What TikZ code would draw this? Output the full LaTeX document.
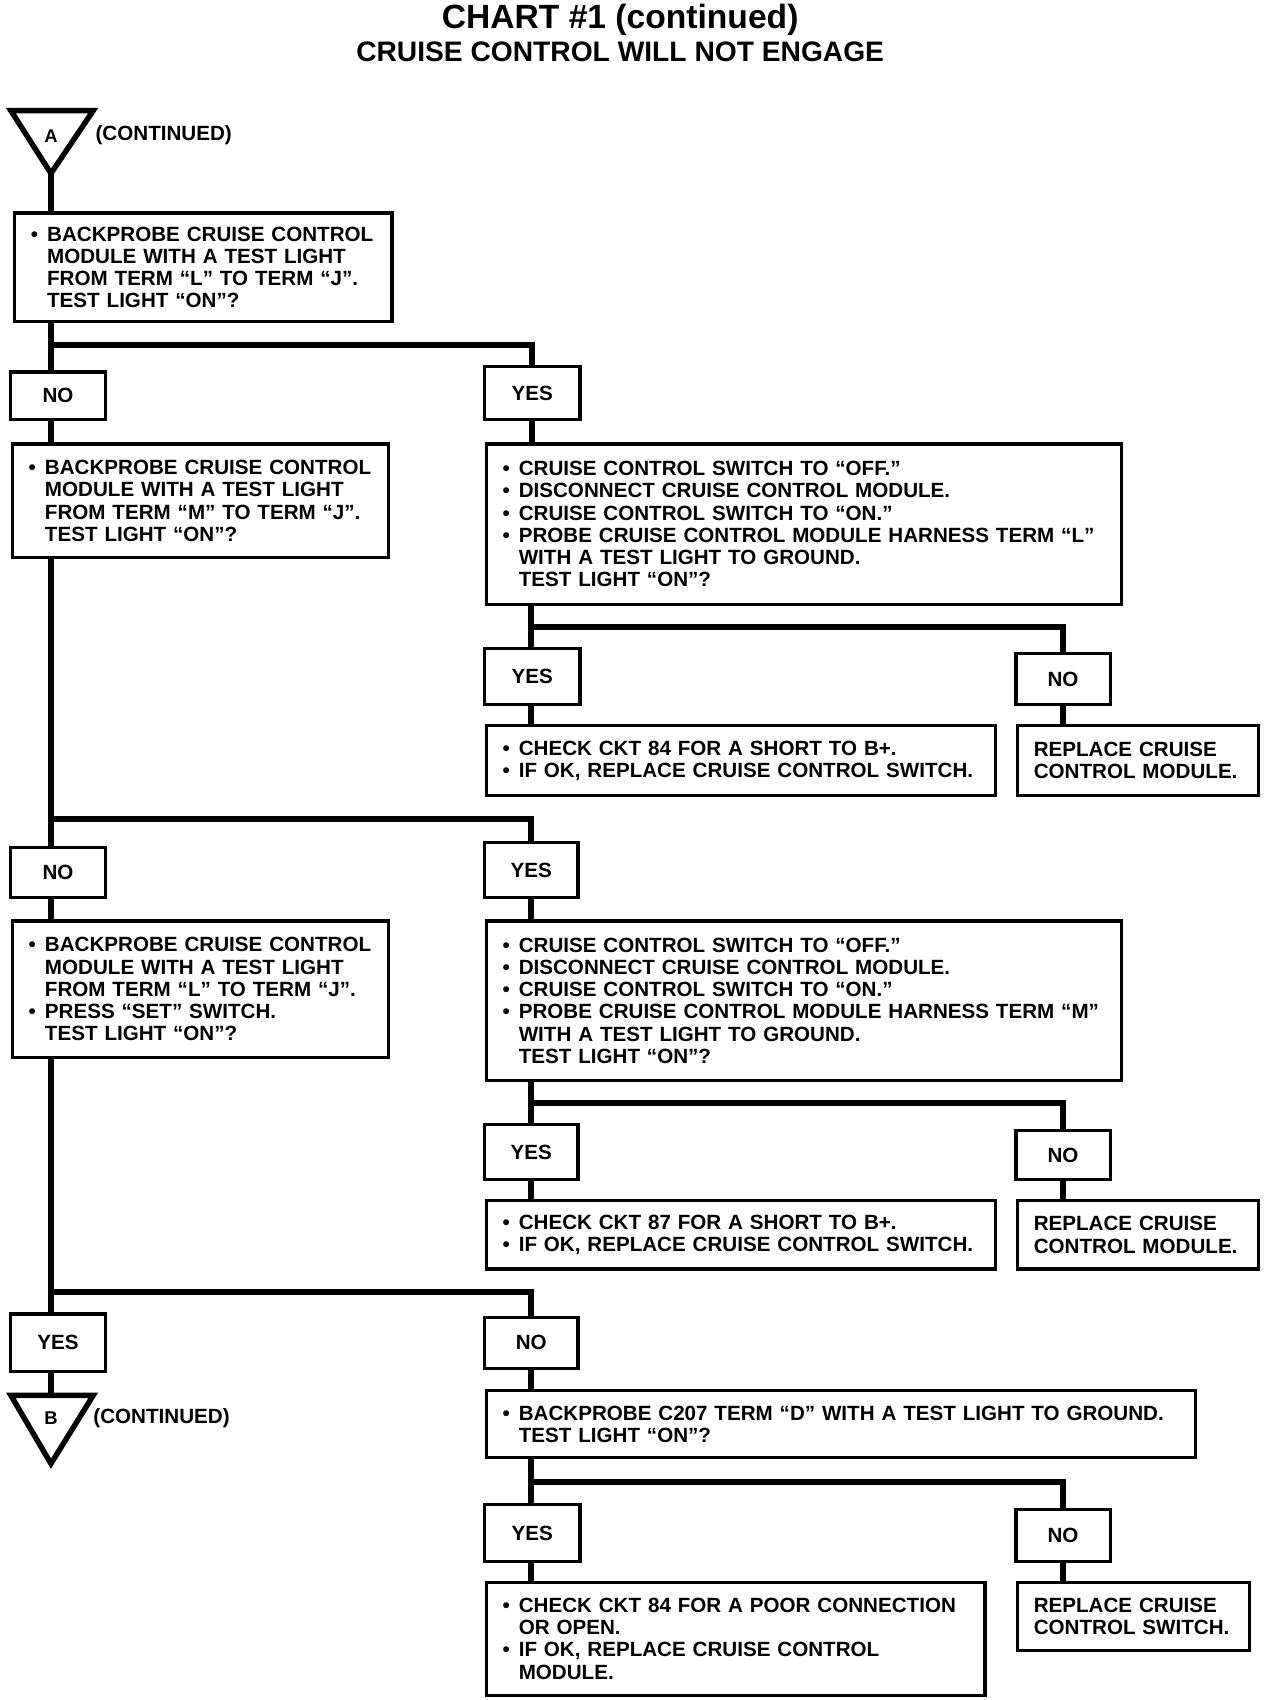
\documentclass[tikz,border=0pt]{standalone}
\usepackage{fontspec}
\setmainfont{Liberation Sans}
\newcommand{\bul}{\makebox[15pt][l]{\textbullet}}
\newcommand{\indt}{\hspace*{15pt}}
\begin{document}
\begin{tikzpicture}[x=1pt,y=-1pt,
  txt/.style={font=\bfseries\fontsize{19}{20.5}\selectfont},
  box/.style={txt, draw, line width=3pt, anchor=north west, inner xsep=15pt, inner ysep=0pt, align=left},
  lab/.style={txt, draw, line width=3pt, inner sep=0pt},
  conn/.style={line width=5.5pt},
  tri/.style={line width=5pt, line join=miter}]
\useasboundingbox (0,0) rectangle (1185,1568);
\fill[white] (0,0) rectangle (1185,1568);

% title
\node[font=\bfseries\fontsize{31}{34}\selectfont] (title) at (572,18) {CHART \#1 (continued)};
\node[font=\bfseries\fontsize{26}{28}\selectfont] (subtitle) at (572,48) {CRUISE CONTROL WILL NOT ENGAGE};

% triangle A
\coordinate (Aap) at (47,160);
\draw[tri] (10,102) -- (86,102) -- (Aap) -- cycle;
\node[txt, font=\bfseries\fontsize{17}{19}\selectfont] (Alab) at (47,126) {A};
\node[txt, anchor=west, inner sep=0pt] (Acont) at (88,125) {(CONTINUED)};

% boxes
\node[box, minimum width=348pt, minimum height=100pt, text width=318pt] (b1) at (12,195)
 {\bul BACKPROBE CRUISE CONTROL\\\indt MODULE WITH A TEST LIGHT\\\indt FROM TERM “L” TO TERM “J”.\\\indt TEST LIGHT “ON”?};
\node[box, minimum width=347pt, minimum height=105pt, text width=317pt] (b2) at (10,408)
 {\bul BACKPROBE CRUISE CONTROL\\\indt MODULE WITH A TEST LIGHT\\\indt FROM TERM “M” TO TERM “J”.\\\indt TEST LIGHT “ON”?};
\node[box, minimum width=586pt, minimum height=148pt, text width=556pt] (b3) at (447,408)
 {\bul CRUISE CONTROL SWITCH TO “OFF.”\\\bul DISCONNECT CRUISE CONTROL MODULE.\\\bul CRUISE CONTROL SWITCH TO “ON.”\\\bul PROBE CRUISE CONTROL MODULE HARNESS TERM “L”\\\indt WITH A TEST LIGHT TO GROUND.\\\indt TEST LIGHT “ON”?};
\node[box, minimum width=470pt, minimum height=64pt, text width=440pt] (b4) at (447,668)
 {\bul CHECK CKT 84 FOR A SHORT TO B+.\\\bul IF OK, REPLACE CRUISE CONTROL SWITCH.};
\node[box, minimum width=222pt, minimum height=64pt, text width=192pt] (b5) at (937,668)
 {REPLACE CRUISE\\CONTROL MODULE.};
\node[box, minimum width=347pt, minimum height=126pt, text width=317pt] (b6) at (10,848)
 {\bul BACKPROBE CRUISE CONTROL\\\indt MODULE WITH A TEST LIGHT\\\indt FROM TERM “L” TO TERM “J”.\\\bul PRESS “SET” SWITCH.\\\indt TEST LIGHT “ON”?};
\node[box, minimum width=586pt, minimum height=147pt, text width=556pt] (b7) at (447,848)
 {\bul CRUISE CONTROL SWITCH TO “OFF.”\\\bul DISCONNECT CRUISE CONTROL MODULE.\\\bul CRUISE CONTROL SWITCH TO “ON.”\\\bul PROBE CRUISE CONTROL MODULE HARNESS TERM “M”\\\indt WITH A TEST LIGHT TO GROUND.\\\indt TEST LIGHT “ON”?};
\node[box, minimum width=470pt, minimum height=63pt, text width=440pt] (b8) at (447,1106)
 {\bul CHECK CKT 87 FOR A SHORT TO B+.\\\bul IF OK, REPLACE CRUISE CONTROL SWITCH.};
\node[box, minimum width=222pt, minimum height=63pt, text width=192pt] (b9) at (937,1106)
 {REPLACE CRUISE\\CONTROL MODULE.};
\node[box, minimum width=654pt, minimum height=62pt, text width=624pt] (b10) at (447,1281)
 {\bul BACKPROBE C207 TERM “D” WITH A TEST LIGHT TO GROUND.\\\indt TEST LIGHT “ON”?};
\node[box, minimum width=460pt, minimum height=104pt, text width=430pt] (b11) at (447,1458)
 {\bul CHECK CKT 84 FOR A POOR CONNECTION\\\indt OR OPEN.\\\bul IF OK, REPLACE CRUISE CONTROL\\\indt MODULE.};
\node[box, minimum width=214pt, minimum height=63pt, text width=184pt] (b12) at (937,1458)
 {REPLACE CRUISE\\CONTROL SWITCH.};

% labels
\node[lab, minimum width=87pt, minimum height=44pt] (n1) at (53.5,365) {NO};
\node[lab, minimum width=88pt, minimum height=49pt] (y1) at (491,362.5) {YES};
\node[lab, minimum width=88pt, minimum height=52pt] (y2) at (491,624) {YES};
\node[lab, minimum width=87pt, minimum height=47pt] (n2) at (980.5,626.5) {NO};
\node[lab, minimum width=87pt, minimum height=46pt] (n3) at (53.5,805) {NO};
\node[lab, minimum width=86pt, minimum height=51pt] (y3) at (490,802.5) {YES};
\node[lab, minimum width=86pt, minimum height=51pt] (y4) at (490,1062.5) {YES};
\node[lab, minimum width=87pt, minimum height=45pt] (n4) at (980.5,1065.5) {NO};
\node[lab, minimum width=87pt, minimum height=53pt] (y5) at (53.5,1238.5) {YES};
\node[lab, minimum width=86pt, minimum height=47pt] (n5) at (490,1238.5) {NO};
\node[lab, minimum width=88pt, minimum height=52pt] (y6) at (491,1414) {YES};
\node[lab, minimum width=87pt, minimum height=48pt] (n6) at (980.5,1416) {NO};

% triangle B
\coordinate (Btop) at (47,1287);
\draw[tri] (10,1287) -- (86,1287) -- (47,1350) -- cycle;
\node[txt, font=\bfseries\fontsize{17}{19}\selectfont] (Blab) at (47,1308) {B};
\node[txt, anchor=west, inner sep=0pt] (Bcont) at (86,1308) {(CONTINUED)};

% split points
\coordinate (s1) at (47,318);
\coordinate (s2) at (490,578);
\coordinate (s3) at (47,755);
\coordinate (s4) at (490,1017);
\coordinate (s5) at (47,1192);
\coordinate (s6) at (490,1367);

% connectors
\draw[conn] (Aap) -- (b1.north -| Aap);
\draw[conn] (b1.south -| s1) -- (s1) -| (y1.north);
\draw[conn] (s1) -- (n1.north -| s1);
\draw[conn] (n1.south -| s1) -- (b2.north -| s1);
\draw[conn] (y1.south) -- (b3.north -| y1);

\draw[conn] (b3.south -| s2) -- (s2) -| (n2.north);
\draw[conn] (s2) -- (y2.north -| s2);
\draw[conn] (y2.south -| s2) -- (b4.north -| s2);
\draw[conn] (n2.south) -- (b5.north -| n2);

\draw[conn] (b2.south -| s3) -- (s3) -| (y3.north);
\draw[conn] (s3) -- (n3.north -| s3);
\draw[conn] (n3.south -| s3) -- (b6.north -| s3);
\draw[conn] (y3.south) -- (b7.north -| y3);

\draw[conn] (b7.south -| s4) -- (s4) -| (n4.north);
\draw[conn] (s4) -- (y4.north -| s4);
\draw[conn] (y4.south -| s4) -- (b8.north -| s4);
\draw[conn] (n4.south) -- (b9.north -| n4);

\draw[conn] (b6.south -| s5) -- (s5) -| (n5.north);
\draw[conn] (s5) -- (y5.north -| s5);
\draw[conn] (y5.south -| s5) -- (Btop);
\draw[conn] (n5.south) -- (b10.north -| n5);

\draw[conn] (b10.south -| s6) -- (s6) -| (n6.north);
\draw[conn] (s6) -- (y6.north -| s6);
\draw[conn] (y6.south -| s6) -- (b11.north -| s6);
\draw[conn] (n6.south) -- (b12.north -| n6);
\end{tikzpicture}
\end{document}
